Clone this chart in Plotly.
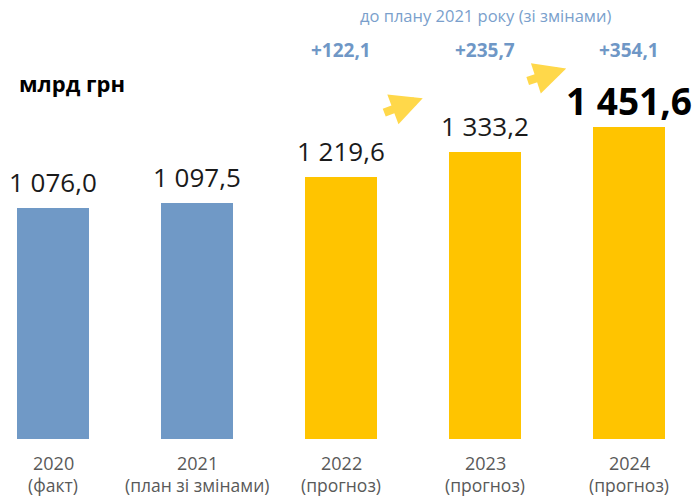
import plotly.graph_objects as go

years = ["2020", "2021", "2022", "2023", "2024"]
subtitles = ["(факт)", "(план зі змінами)", "(прогноз)", "(прогноз)", "(прогноз)"]
values = [1076.0, 1097.5, 1219.6, 1333.2, 1451.6]
value_labels = ["1 076,0", "1 097,5", "1 219,6", "1 333,2", "1 451,6"]
deltas = ["", "", "+122,1", "+235,7", "+354,1"]
colors = ["#7099c6", "#7099c6", "#ffc400", "#ffc400", "#ffc400"]

FONT = "Open Sans"
x = list(range(len(years)))

fig = go.Figure()
fig.add_trace(go.Bar(x=x, y=values, marker_color=colors, width=0.5,
                     marker_line_width=0, hoverinfo="skip"))

ann = []
for i, (v, lab) in enumerate(zip(values, value_labels)):
    last = i == len(values) - 1
    ann.append(dict(x=i, y=v, text=("<b>%s</b>" % lab) if last else lab,
                    showarrow=False, yanchor="middle", yshift=26,
                    font=dict(family=FONT, size=37 if last else 26,
                              color="#000000" if last else "#1a1a1a")))
    ann.append(dict(x=i, y=0, text=years[i],
                    showarrow=False, yanchor="middle", yshift=-24,
                    font=dict(family=FONT, size=18, color="#595959")))
    ann.append(dict(x=i, y=0, text=subtitles[i],
                    showarrow=False, yanchor="middle", yshift=-46,
                    font=dict(family=FONT, size=17.5, color="#595959")))
    if deltas[i]:
        ann.append(dict(x=i, y=1, yref="paper", text="<b>%s</b>" % deltas[i],
                        showarrow=False, yanchor="middle", yshift=-50,
                        font=dict(family=FONT, size=19, color="#6f97c6")))

ann.append(dict(x=3, y=1, yref="paper", text="до плану 2021 року (зі змінами)",
                showarrow=False, yanchor="middle", yshift=-15,
                font=dict(family=FONT, size=16.5, color="#7a9fcc")))
ann.append(dict(x=17 / 693, xref="paper", xanchor="left", y=1, yref="paper",
                text="<b>млрд грн</b>", showarrow=False, yanchor="middle",
                yshift=-83, font=dict(family=FONT, size=22, color="#000000")))

# yellow arrows
for (hx, hy, ax, ay) in [(0.610, 0.802, -40, 15), (0.817, 0.862, -40, 13)]:
    ann.append(dict(x=hx, y=hy, xref="paper", yref="paper", ax=ax, ay=ay,
                    showarrow=True, arrowhead=2, arrowwidth=8.5, arrowsize=0.75,
                    arrowcolor="#ffd84a", text=""))

fig.update_layout(
    width=693, height=496,
    margin=dict(l=0, r=0, t=0, b=0),
    paper_bgcolor="white", plot_bgcolor="white",
    showlegend=False,
    annotations=ann,
    xaxis=dict(range=[-0.368, 4.444], visible=False),
    yaxis=dict(range=[-265.2, 2042.4], visible=False),
    bargap=0,
)
fig.write_html("out.html", config={"displayModeBar": False},
               post_script="document.body.style.margin='0';document.body.style.padding='0';")
